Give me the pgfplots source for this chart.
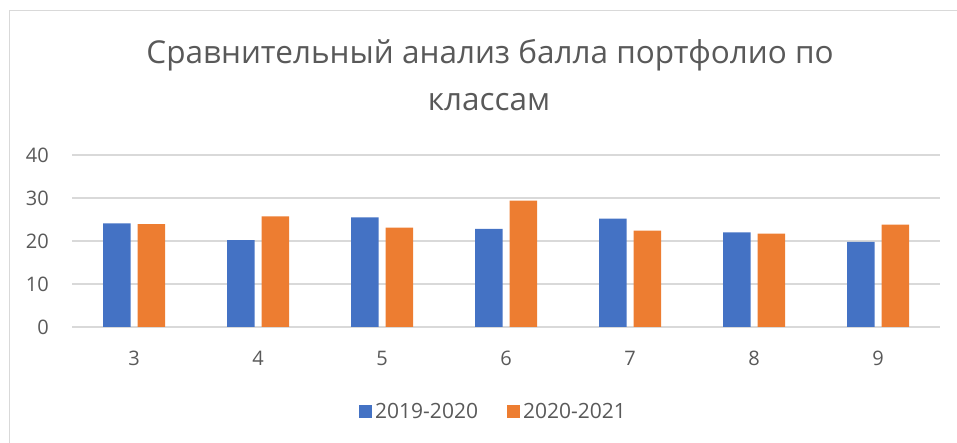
\documentclass[border=0pt]{standalone}
\usepackage{pgfplots}
\pgfplotsset{compat=1.18}
\usepackage{fontspec}
\setmainfont{Open Sans}
\definecolor{txt}{HTML}{595959}
\definecolor{gridc}{HTML}{D9D9D9}
\definecolor{blueb}{HTML}{4472C4}
\definecolor{orangeb}{HTML}{ED7D31}

\begin{document}
\begin{tikzpicture}
  \useasboundingbox (0pt,0pt) rectangle (957pt,443pt);
  % outer chart frame (cut off at right and bottom)
  \draw[gridc, line width=1pt] (9pt,0pt) -- (9pt,432pt) -- (957pt,432pt);
  \node[anchor=base, text=txt, font=\fontsize{31.5}{38}\selectfont] at (490pt,379pt)
    {Сравнительный анализ балла портфолио по};
  \node[anchor=base, text=txt, font=\fontsize{31.5}{38}\selectfont] at (489pt,332pt)
    {классам};
  \begin{axis}[
    at={(72pt,116pt)}, anchor=south west,
    scale only axis, width=868pt, height=172pt,
    ybar=7pt, bar width=27.5pt,
    xmin=-0.5, xmax=6.5, ymin=0, ymax=40,
    xtick=data, xticklabels={3,4,5,6,7,8,9},
    ytick={0,10,20,30,40},
    /pgf/number format/assume math mode=true,
    axis line style={draw=none},
    major tick length=0pt,
    ymajorgrids, grid style={gridc, line width=1.3pt},
    ticklabel style={text=txt, font=\fontsize{20}{24}\selectfont},
    yticklabel style={inner sep=0pt, xshift=-23pt},
    xticklabel style={inner sep=0pt, yshift=-24pt},
    legend columns=2,
    legend style={at={(422pt,-85pt)}, anchor=center, draw=none,
      font=\fontsize{21}{25}\selectfont, text=txt,
      nodes={inner sep=3pt},
      /tikz/every even column/.append style={column sep=26pt}},
    legend image code/.code={\fill[#1] (0pt,-6.5pt) rectangle (13pt,6.5pt);},
  ]
    \addplot[fill=blueb, draw=none] coordinates {
      (0,24.1) (1,20.2) (2,25.5) (3,22.8) (4,25.2) (5,22.0) (6,19.8)
    };
    \addplot[fill=orangeb, draw=none] coordinates {
      (0,23.9) (1,25.7) (2,23.1) (3,29.4) (4,22.4) (5,21.7) (6,23.8)
    };
    \legend{2019-2020, 2020-2021}
  \end{axis}
\end{tikzpicture}
\end{document}
